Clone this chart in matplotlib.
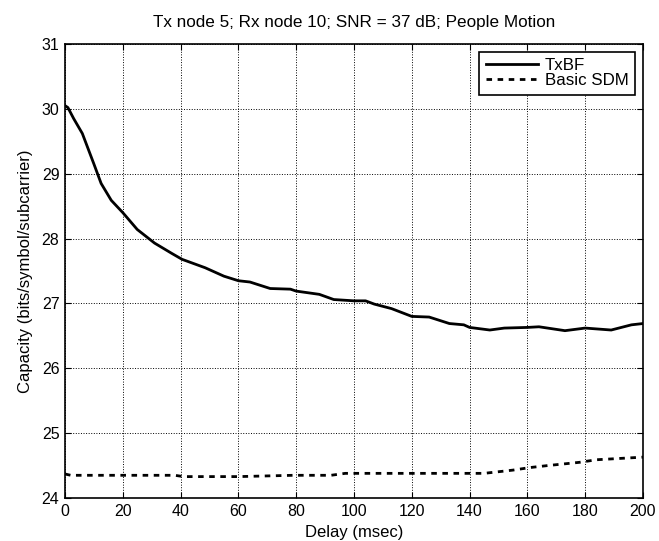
import matplotlib
matplotlib.use('Agg')
import matplotlib.pyplot as plt

# valores
delay_txbf = [0, 1, 3, 6, 10, 12.5, 16, 20, 25, 31, 37, 40.5, 48.5, 55, 60, 64, 71, 78, 80, 88, 93,
              100, 104, 107, 113, 120, 126, 133, 138, 140, 147, 152, 160, 164, 173, 180, 189, 196, 200]
cap_txbf = [30.05, 30.02, 29.85, 29.62, 29.15, 28.85, 28.59, 28.4, 28.14, 27.93, 27.77, 27.68, 27.55,
            27.42, 27.35, 27.33, 27.23, 27.22, 27.19, 27.14, 27.06, 27.04, 27.04, 26.99, 26.92, 26.8,
            26.79, 26.69, 26.67, 26.63, 26.59, 26.62, 26.63, 26.64, 26.58, 26.62, 26.59, 26.67, 26.69]

delay_sdm = [0, 2, 20, 38, 41, 60, 79, 92, 97, 123, 145, 151, 155, 161, 167, 178, 184, 200]
cap_sdm = [24.37, 24.35, 24.35, 24.35, 24.33, 24.33, 24.35, 24.35, 24.38, 24.38, 24.38, 24.41,
           24.43, 24.47, 24.5, 24.55, 24.59, 24.63]

xticks = list(range(0, 201, 20))
yticks = list(range(24, 32))

plt.rcParams['font.family'] = ['Liberation Sans', 'DejaVu Sans']

fig = plt.figure(figsize=(6.59, 5.41), dpi=100)
ax = fig.add_axes([65 / 659, 1 - 498 / 541, 578 / 659, 454 / 541])

ax.plot(delay_txbf, cap_txbf, color='black', lw=2, label='TxBF')
ax.plot(delay_sdm, cap_sdm, color='black', lw=2, ls=(0, (2, 2)), label='Basic SDM')

ax.set_xlim(0, 200)
ax.set_ylim(24, 31)
ax.set_xticks(xticks)
ax.set_yticks(yticks)
ax.tick_params(direction='in', top=True, right=True, labelsize=11.5, length=4, pad=4)
ax.grid(True, color='black', ls=':', lw=0.7)
for s in ax.spines.values():
    s.set_linewidth(1.2)

ax.set_title('Tx node 5; Rx node 10; SNR = 37 dB; People Motion', fontsize=12.3, pad=12)
ax.set_xlabel('Delay (msec)', fontsize=12, labelpad=5)
ax.set_ylabel('Capacity (bits/symbol/subcarrier)', fontsize=12, labelpad=6)

leg = ax.legend(loc='upper right', fontsize=12.2, fancybox=False, framealpha=1,
                edgecolor='black', handlelength=3.1, handletextpad=0.4,
                labelspacing=0.0, borderpad=0.4, borderaxespad=0.45)
leg.get_frame().set_linewidth(1.2)

fig.savefig('out.png', dpi=100)
